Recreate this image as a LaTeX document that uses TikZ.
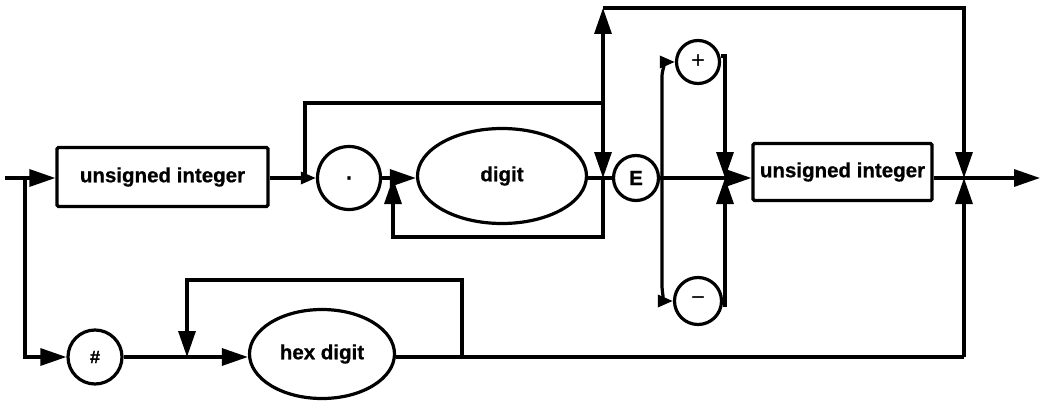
\documentclass[tikz,border=0pt]{standalone}
\usepackage{fontspec}
\setmainfont{Liberation Sans}[BoldFeatures={FakeBold=0.8}]
\usetikzlibrary{arrows.meta,shapes.geometric}
\begin{document}
\begin{tikzpicture}[x=1pt,y=-1pt,line width=3.2pt,
  tip/.style={-{Triangle[length=26pt,width=17pt]}},
  smalltip/.style={-{Triangle[length=15pt,width=12pt]}},
  lbl/.style={font=\bfseries\fontsize{20.5}{23}\selectfont},
  rbox/.style={draw,rectangle,inner sep=0pt,rounded corners=1.5pt,lbl},
  oval/.style={draw,ellipse,inner sep=0pt,lbl},
  circ/.style={draw,circle,inner sep=0pt,lbl}]
\useasboundingbox (0,0) rectangle (1041,404);
% nodes
\node[rbox,minimum width=211pt,minimum height=59pt] (ui1) at (162.5,177) {unsigned integer};
\node[circ,minimum size=63pt] (dot) at (349,178) {.};
\node[oval,minimum width=169pt,minimum height=95pt] (digit) at (502,176) {digit};
\node[circ,minimum size=45pt] (E) at (636,178) {E};
\node[circ,minimum size=43pt,font=\fontsize{24}{26}\selectfont] (plus) at (698,62) {+};
\node[circ,minimum size=47pt,font=\fontsize{24}{26}\selectfont] (minus) at (698,301) {−};
\node[rbox,minimum width=179pt,minimum height=57pt] (ui2) at (842.5,172) {unsigned integer};
\node[circ,minimum size=54pt,font=\bfseries\fontsize{18}{20}\selectfont] (hash) at (95,357) {\#};
\node[oval,minimum width=145pt,minimum height=89pt] (hex) at (322,354) {hex digit};
% coordinates
\coordinate (start) at (5,178);
\coordinate (j0) at (25,178);
\coordinate (j0b) at (25,357);
\coordinate (b1) at (305,178);
\coordinate (b1t) at (305,103);
\coordinate (k1) at (603,103);
\coordinate (k0) at (603,178);
\coordinate (ktop) at (603,8);
\coordinate (kb) at (603,237);
\coordinate (lb) at (393,237);
\coordinate (l0) at (393,178);
\coordinate (r0) at (964,178);
\coordinate (rbot) at (964,357);
\coordinate (e1) at (662,178);
\coordinate (e1t) at (662,76);
\coordinate (e1b) at (662,287);
\coordinate (p1) at (725,56);
\coordinate (p0) at (725,178);
\coordinate (m1) at (725,305);
\coordinate (h1) at (462,357);
\coordinate (h1t) at (462,280);
\coordinate (h0t) at (187,280);
\coordinate (h0) at (187,357);
\coordinate (fin) at (1040,178);
% connectors
\draw[tip] (start) -- (ui1.west |- start);
\draw[tip] (j0) -- (j0b) -- (hash.west);
\draw[smalltip] (ui1.east |- b1) -- (dot.west);
\draw[tip] (b1) -- (b1t) -- (k1) -- (k0);
\draw[tip] (k1) -- (ktop);
\draw[tip] (ktop) -| (r0);
\draw[tip] (dot.east) -- (digit.west |- dot.east);
\draw (digit.east |- k0) -- (E.west);
\draw[tip] (k0) -- (kb) -- (lb) -- (l0);
\draw[tip] (E.east) -- (ui2.west |- E);
\draw[smalltip] (e1) -- (e1t) to[out=90,in=180] (plus.west);
\draw[smalltip] (e1) -- (e1b) to[out=-90,in=180] (minus.west);
\draw[tip] (plus.east |- p1) -- (p1) -- (p0);
\draw[tip] (minus.east |- m1) -- (m1) -- (p0);
\draw (ui2.east |- r0) -- (r0);
\draw[tip] (r0) -- (fin);
\draw[tip] (hash.east) -- (hex.west |- hash.east);
\draw[tip] (h1) -- (h1t) -- (h0t) -- (h0);
\draw (hex.east |- rbot) -- (rbot);
\draw[tip] (rbot) -- (r0);
\end{tikzpicture}
\end{document}
